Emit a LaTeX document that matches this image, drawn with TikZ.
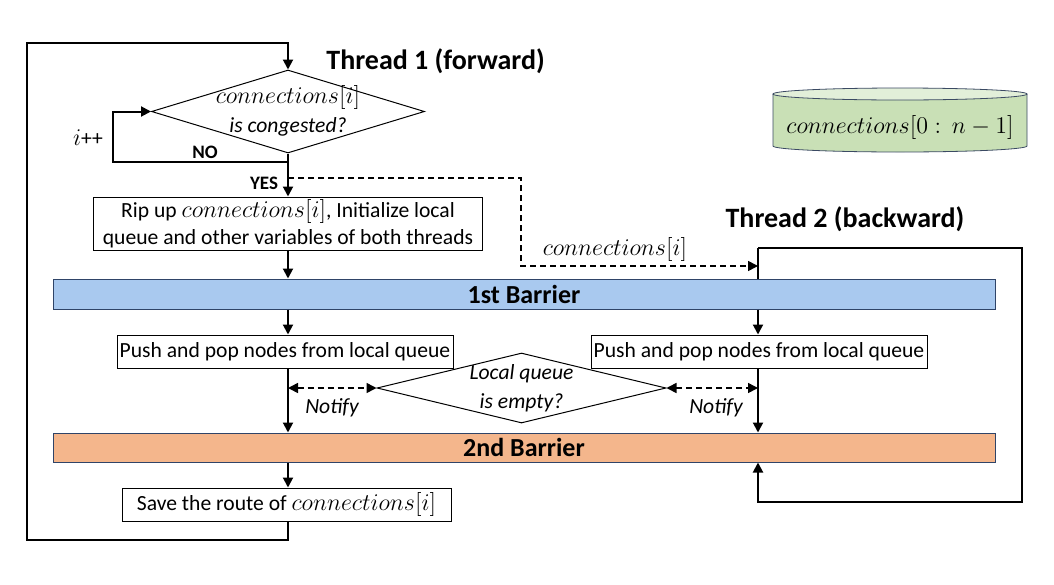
\documentclass[tikz,border=0pt]{standalone}
\usepackage{fontspec}
\setmainfont{Carlito}
\usetikzlibrary{arrows.meta,shapes.geometric}
\definecolor{bluebar}{HTML}{A9C9EF}
\definecolor{orangebar}{HTML}{F4B68C}
\definecolor{barborder}{HTML}{2F4468}
\definecolor{cylbody}{HTML}{C9E0B6}
\definecolor{cyltop}{HTML}{E2EFD9}
\definecolor{cylborder}{HTML}{3B4A63}
\newcommand{\conn}[1]{{\fontsize{11.8}{13}\selectfont$connections[#1]$}}
\begin{document}
\begin{tikzpicture}[x=0.5pt,y=-0.5pt,
  box/.style={draw=black, line width=0.5pt, fill=white, inner sep=0pt, align=center, font=\fontsize{10.8}{13.5}\selectfont},
  bar/.style={draw=barborder, line width=0.5pt, minimum width=471pt, inner sep=0pt, font=\bfseries\fontsize{13}{15}\selectfont},
  dec/.style={diamond, draw=black, line width=0.5pt, inner sep=0pt},
  dtext/.style={align=center, inner sep=0pt, font=\itshape\fontsize{10.8}{14.5}\selectfont},
  tip/.style={-{Triangle[length=5pt,width=5pt]}},
  flow/.style={line width=1pt, tip},
  plain/.style={line width=1pt},
  dline/.style={line width=0.8pt, dash pattern=on 3pt off 2pt},
  title/.style={font=\bfseries\fontsize{14}{16}\selectfont, inner sep=0pt},
  small/.style={font=\bfseries\fontsize{9.5}{11}\selectfont, inner sep=0pt},
  lbl/.style={font=\fontsize{10.8}{12}\selectfont, inner sep=0pt}
]
\useasboundingbox (0,0) rectangle (1054,584);
% column coordinates
\coordinate (c1) at (288,0);
\coordinate (c2) at (758,0);
% nodes
\node[dec, minimum width=136.5pt, minimum height=41.5pt] (d1) at (288,111.5) {};
\node[dtext] (d1t) at (288,111) {\conn{i}\\is congested?};
\node[box, minimum width=194.5pt, minimum height=26.5pt] (b0) at (288,223.5) {Rip up \conn{i}, Initialize local\\queue and other variables of both threads};
\node[bar, fill=bluebar, minimum height=15pt] (b1) at (524,294) {1st Barrier};
\node[box, minimum width=168pt, minimum height=16.5pt] (pl) at (285,351.5) {Push and pop nodes from local queue};
\node[box, minimum width=168pt, minimum height=16.5pt] (pr) at (759,351.5) {Push and pop nodes from local queue};
\node[dec, minimum width=144.5pt, minimum height=35pt] (d2) at (521.5,388) {};
\node[dtext] (d2t) at (521.5,388) {Local queue\\is empty?};
\node[bar, fill=orangebar, minimum height=14.5pt] (b2) at (524,447.5) {2nd Barrier};
\node[box, minimum width=164.5pt, minimum height=16.5pt] (sv) at (286.5,504.5) {Save the route of \conn{i}};
% cylinder
\draw[draw=cylborder, line width=0.4pt, fill=cylbody] (773,94) -- (773,146) arc[start angle=180, end angle=360, x radius=63.5pt, y radius=3pt] -- (1027,94);
\draw[draw=cylborder, line width=0.4pt, fill=cyltop] (900,94) ellipse [x radius=63.5pt, y radius=3pt];
\node[lbl] (cyl) at (900,127) {{\fontsize{11.8}{13}\selectfont$connections[0 : \, n-1]$}};
% labels
\node[title, anchor=west] (t1) at (326,61) {Thread 1 (forward)};
\node[title] (t2) at (845,219) {Thread 2 (backward)};
\node[lbl] (ipp) at (88,138) {{\fontsize{11.8}{13}\selectfont$i$}++};
\node[small] (no) at (205,152) {NO};
\node[small] (yes) at (264,183) {YES};
\node[lbl] (cl) at (615,249) {\conn{i}};
\node[lbl, font=\itshape\fontsize{10.8}{12}\selectfont] (nf1) at (332,408) {Notify};
\node[lbl, font=\itshape\fontsize{10.8}{12}\selectfont] (nf2) at (716,408) {Notify};
% helper coordinates
\coordinate (lb) at (27,540);
\coordinate (lt) at (27,43);
\coordinate (n1) at (288,162);
\coordinate (n2) at (113,162);
\coordinate (ds) at (288,178);
\coordinate (dc) at (521,266);
\coordinate (t2in) at (758,266);
\coordinate (t2a) at (758,248);
\coordinate (t2b) at (1022,248);
\coordinate (t2c) at (1022,502);
% connectors
\draw[flow] (c1 |- sv.south) |- (lb) -- (lt) -| (d1.north);
\draw[flow] (n1) -- (n2) |- (d1.west);
\draw[flow] (d1.south) -- (b0.north);
\draw[dline, tip] (ds) -| (dc) -- (t2in);
\draw[flow] (b0.south) -- (c1 |- b1.north);
\draw[flow] (c1 |- b1.south) -- (c1 |- pl.north);
\draw[flow] (c2 |- b1.south) -- (c2 |- pr.north);
\draw[flow] (c1 |- pl.south) -- (c1 |- b2.north);
\draw[flow] (c2 |- pr.south) -- (c2 |- b2.north);
\draw[flow] (c1 |- b2.south) -- (c1 |- sv.north);
\draw[plain] (c2 |- b1.north) -- (t2a);
\draw[flow] (t2a) -- (t2b) -- (t2c) -| (c2 |- b2.south);
\draw[dline, {Triangle[length=5pt,width=5pt]}-{Triangle[length=5pt,width=5pt]}] (c1 |- d2.west) -- (d2.west);
\draw[dline, {Triangle[length=5pt,width=5pt]}-{Triangle[length=5pt,width=5pt]}] (d2.east) -- (c2 |- d2.east);
\end{tikzpicture}
\end{document}
